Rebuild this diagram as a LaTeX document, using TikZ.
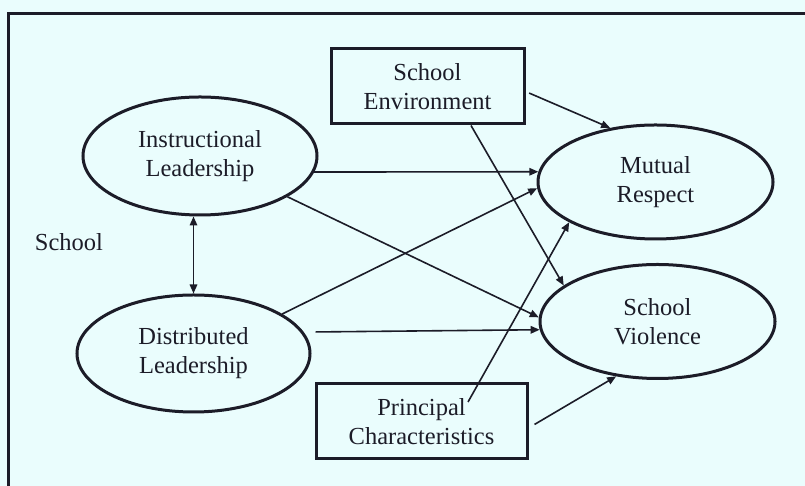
\documentclass[tikz,border=0pt]{standalone}
\usepackage{fontspec}
\setmainfont{Liberation Serif}
\usetikzlibrary{arrows.meta,shapes.geometric}
\definecolor{bgcyan}{RGB}{234,253,253}
\definecolor{ink}{RGB}{28,28,40}
\tikzset{
  txt/.style={font=\fontsize{24.5}{29}\selectfont, text=ink, align=center},
  oval/.style={txt, ellipse, draw=ink, line width=3pt, inner sep=0pt},
  rbox/.style={txt, rectangle, draw=ink, line width=3pt, inner sep=0pt},
  arr/.style={draw=ink, line width=1.6pt, -{Triangle[length=9pt,width=7.5pt]}},
  darr/.style={draw=ink, line width=1.6pt, {Triangle[length=9pt,width=7.5pt]}-{Triangle[length=9pt,width=7.5pt]}}
}
\begin{document}
\begin{tikzpicture}[x=1pt,y=1pt]
\useasboundingbox (0,0) rectangle (805,486);
\fill[bgcyan] (0,0) rectangle (805,486);
\draw[ink, line width=3pt] (8,-5) -- (8,472) -- (812,472);

\node[oval, minimum width=234pt, minimum height=118pt] (IL) at (200,330) {Instructional\\Leadership};
\node[oval, minimum width=233pt, minimum height=117pt] (DL) at (193.5,132.5) {Distributed\\Leadership};
\node[oval, minimum width=235pt, minimum height=114pt] (MR) at (655.5,304) {Mutual\\Respect};
\node[oval, minimum width=235pt, minimum height=114pt] (SV) at (657.5,164.5) {School\\Violence};
\node[rbox, minimum width=193pt, minimum height=75pt] (SE) at (427.5,399.5) {School\\Environment};
\node[rbox, minimum width=211pt, minimum height=75pt] (PC) at (421.5,64.5) {Principal\\Characteristics};
\node[txt] (SCH) at (69,244) {School};

\draw[darr] (DL.north |- IL.south) -- (DL.north);
\draw[arr] (IL.-8.6) -- (MR.175.6);
\draw[arr] (IL.-25) -- (SV.178.3);
\draw[arr] (DL.24.6) -- (MR.183);
\draw[arr, shorten <=12pt] (DL.11.8) -- (SV.184.5);
\draw[arr, shorten <=4pt] ([yshift=-5pt]SE.east) -- (MR.130.8);
\draw[arr] ([xshift=43.5pt]SE.south) -- (SV.159.5);
\draw[arr] ([xshift=46.5pt,yshift=19.5pt]PC.center) -- (MR.205.9);
\draw[arr, shorten <=7pt] ([yshift=-6.5pt]PC.east) -- (SV.233);
\end{tikzpicture}
\end{document}
